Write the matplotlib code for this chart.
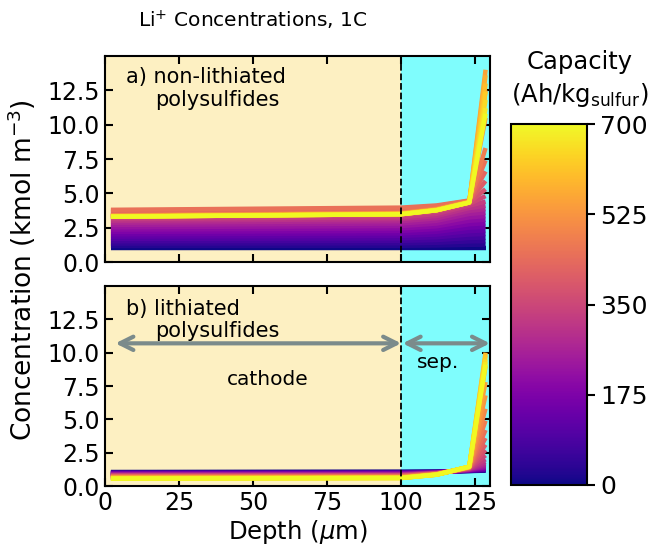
import numpy as np
import matplotlib
matplotlib.use("Agg")
import matplotlib.pyplot as plt
from matplotlib import cm, colors

plt.rcParams['font.family'] = ['DejaVu Sans']
plt.rcParams['mathtext.fontset'] = 'dejavusans'

# capacidade de cada curva (Ah/kg enxofre)
capacity = [0, 25, 50, 75, 100, 125, 150, 175, 200, 225, 250, 275, 300, 325, 350,
            375, 400, 425, 450, 475, 500, 525, 550, 575, 600, 625, 650, 675, 700]

# profundidades dos nós (um)
depth = [2.0, 100.0, 112.0, 123.0, 128.5]

# a) polissulfetos não litiados - concentração em cada nó
top_d2 = [1.00, 1.17, 1.34, 1.51, 1.68, 1.85, 2.02, 2.19, 2.36, 2.53, 2.70, 2.86, 3.00, 3.12, 3.25,
          3.45, 3.62, 3.74, 3.80, 3.42, 3.38, 3.36, 3.34, 3.33, 3.32, 3.31, 3.30, 3.30, 3.30]
top_d100 = [1.00, 1.18, 1.36, 1.54, 1.72, 1.90, 2.08, 2.26, 2.44, 2.62, 2.80, 2.97, 3.12, 3.25, 3.39,
            3.60, 3.78, 3.90, 3.96, 3.60, 3.56, 3.54, 3.52, 3.51, 3.50, 3.49, 3.48, 3.48, 3.48]
top_d112 = [1.00, 1.20, 1.40, 1.60, 1.80, 2.00, 2.20, 2.40, 2.60, 2.80, 3.00, 3.18, 3.35, 3.50, 3.65,
            3.83, 3.97, 4.07, 4.12, 3.88, 3.85, 3.83, 3.81, 3.80, 3.79, 3.78, 3.77, 3.77, 3.77]
top_d123 = [1.00, 1.25, 1.50, 1.75, 2.00, 2.25, 2.50, 2.75, 3.00, 3.25, 3.50, 3.72, 3.92, 4.10, 4.22,
            4.32, 4.40, 4.45, 4.48, 4.42, 4.40, 4.38, 4.36, 4.35, 4.35, 4.34, 4.34, 4.33, 4.33]
top_d128 = [1.00, 1.26, 1.52, 1.78, 2.04, 2.30, 2.56, 2.82, 3.08, 3.34, 3.60, 3.85, 4.10, 4.40, 4.80,
            5.30, 5.90, 6.60, 7.40, 8.30, 10.5, 12.5, 14.0, 13.6, 13.0, 12.4, 11.8, 11.2, 10.8]

# b) polissulfetos litiados
bot_d2 = [1.05, 1.03, 1.01, 0.99, 0.97, 0.95, 0.93, 0.91, 0.89, 0.87, 0.85, 0.83, 0.81, 0.79, 0.77,
          0.75, 0.73, 0.71, 0.69, 0.67, 0.65, 0.63, 0.61, 0.60, 0.59, 0.58, 0.57, 0.56, 0.55]
bot_d100 = [1.07, 1.05, 1.03, 1.01, 0.99, 0.97, 0.95, 0.93, 0.91, 0.89, 0.87, 0.85, 0.83, 0.81, 0.79,
            0.77, 0.75, 0.73, 0.71, 0.69, 0.67, 0.65, 0.64, 0.63, 0.62, 0.61, 0.60, 0.60, 0.60]
bot_d112 = [1.08, 1.07, 1.06, 1.05, 1.04, 1.03, 1.02, 1.01, 1.00, 0.99, 0.98, 0.97, 0.96, 0.95, 0.94,
            0.93, 0.92, 0.91, 0.90, 0.89, 0.88, 0.87, 0.87, 0.86, 0.86, 0.85, 0.85, 0.85, 0.85]
bot_d123 = [1.12, 1.13, 1.14, 1.15, 1.16, 1.17, 1.18, 1.19, 1.20, 1.21, 1.23, 1.25, 1.27, 1.29, 1.31,
            1.33, 1.35, 1.37, 1.38, 1.39, 1.40, 1.41, 1.42, 1.43, 1.44, 1.44, 1.45, 1.45, 1.45]
bot_d128 = [1.15, 1.17, 1.19, 1.21, 1.23, 1.26, 1.30, 1.34, 1.40, 1.46, 1.55, 1.65, 1.80, 2.00, 2.30,
            2.70, 3.10, 3.60, 4.20, 4.90, 5.80, 6.80, 7.80, 9.00, 10.0, 9.80, 9.50, 9.30, 9.10]

cbar_ticks = [0, 175, 350, 525, 700]

fs_tick = 17
fs_lab = 17.5
fs_txt = 15
fig = plt.figure(figsize=(6.54, 5.46), dpi=100)
ax1 = fig.add_axes([105/654, 1-262/546, 385/654, 206/546])
ax2 = fig.add_axes([105/654, 1-486/546, 385/654, 200/546])

norm = colors.Normalize(vmin=0, vmax=700)
cmap = plt.get_cmap('plasma')

def draw_panel(ax, cols):
    ax.axvspan(0, 100, color='#fdf0c2', zorder=0)
    ax.axvspan(100, 130, color='#7ffdfd', zorder=0)
    for i, c in enumerate(capacity):
        y = [col[i] for col in cols]
        ax.plot(depth, y, color=cmap(norm(c)), lw=3.2, solid_capstyle='butt', zorder=2)
    ax.axvline(100, color='k', ls='--', lw=1.3, zorder=3)
    ax.set_xlim(0, 130)
    ax.set_ylim(0, 15)
    ax.set_yticks([0, 2.5, 5, 7.5, 10, 12.5])
    ax.set_xticks([0, 25, 50, 75, 100, 125])
    ax.tick_params(direction='in', top=True, right=True, length=6, width=1.5, labelsize=fs_tick)
    for s in ax.spines.values():
        s.set_linewidth(1.5)

draw_panel(ax1, [top_d2, top_d100, top_d112, top_d123, top_d128])
draw_panel(ax2, [bot_d2, bot_d100, bot_d112, bot_d123, bot_d128])
ax1.tick_params(labelbottom=False)
ax2.set_xlabel('Depth ($\\mu$m)', fontsize=fs_lab, labelpad=2)

ax1.text(7, 13.5, 'a) non-lithiated', fontsize=fs_txt, va='center')
ax1.text(17, 11.8, 'polysulfides', fontsize=fs_txt, va='center')
ax2.text(7, 13.3, 'b) lithiated', fontsize=fs_txt, va='center')
ax2.text(17, 11.6, 'polysulfides', fontsize=fs_txt, va='center')

arrow_kw = dict(arrowstyle='<->', color='#7b8b8b', lw=3, mutation_scale=24, shrinkA=0, shrinkB=0)
ax2.annotate('', xy=(3.5, 10.7), xytext=(100, 10.7), arrowprops=arrow_kw, zorder=4)
ax2.annotate('', xy=(100.5, 10.7), xytext=(130, 10.7), arrowprops=arrow_kw, zorder=4)
ax2.text(55, 8.0, 'cathode', fontsize=14.5, ha='center', va='center')
ax2.text(112.5, 9.3, 'sep.', fontsize=14.5, ha='center', va='center')

fig.text(22/654, 1-270/546, 'Concentration (kmol m$^{-3}$)', rotation=90,
         fontsize=19, ha='center', va='center')
fig.text(253/654, 1-20/546, 'Li$^{+}$ Concentrations, 1C', fontsize=14.5, ha='center', va='center')

cax = fig.add_axes([511/654, 1-485/546, 76/654, 361/546])
cb = fig.colorbar(cm.ScalarMappable(norm=norm, cmap=cmap), cax=cax, ticks=cbar_ticks)
cb.ax.tick_params(labelsize=18, length=6, width=1.5)
cb.outline.set_linewidth(1.5)
fig.text(580/654, 1-62/546, 'Capacity', fontsize=fs_lab, ha='center', va='center')
fig.text(580/654, 1-95/546, '(Ah/kg$_{\\mathrm{sulfur}}$)', fontsize=fs_lab, ha='center', va='center')

fig.savefig('out.png', dpi=100)
